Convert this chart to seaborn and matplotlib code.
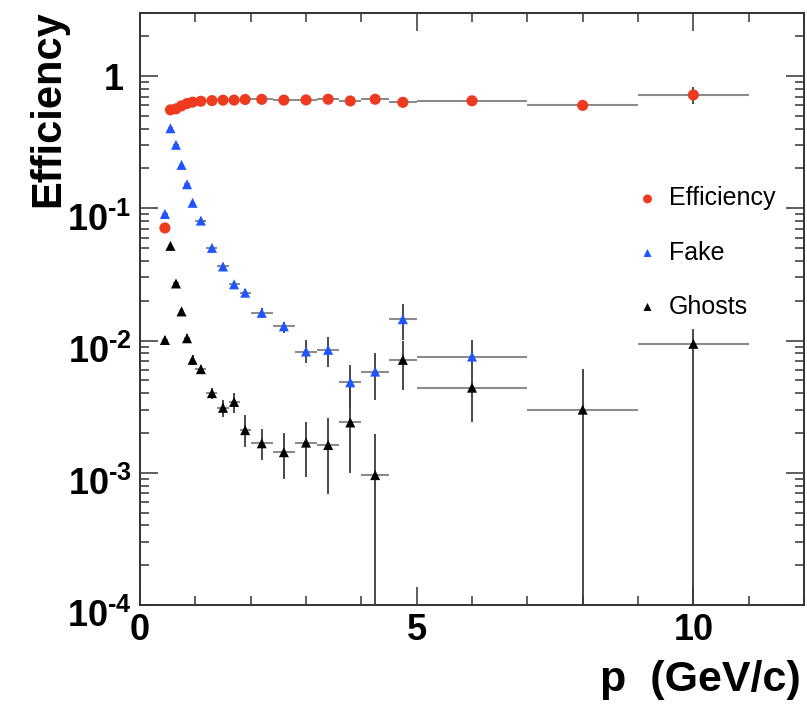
import numpy as np
import pandas as pd
import matplotlib
matplotlib.use("Agg")
import matplotlib.pyplot as plt
import matplotlib.transforms as mtransforms
import seaborn as sns
from matplotlib.ticker import MultipleLocator, LogLocator, NullFormatter

# ---------------- data ----------------
p_centers = [0.45, 0.55, 0.65, 0.75, 0.85, 0.95, 1.1, 1.3, 1.5, 1.7, 1.9,
             2.2, 2.6, 3.0, 3.4, 3.8, 4.25, 4.75, 6.0, 8.0, 10.0]
p_halfwidth = [0.05, 0.05, 0.05, 0.05, 0.05, 0.05, 0.1, 0.1, 0.1, 0.1, 0.1,
               0.2, 0.2, 0.2, 0.2, 0.2, 0.25, 0.25, 1.0, 1.0, 1.0]

efficiency = [0.071, 0.555, 0.565, 0.595, 0.62, 0.635, 0.645, 0.652, 0.657, 0.658, 0.665,
              0.667, 0.658, 0.66, 0.668, 0.648, 0.668, 0.633, 0.65, 0.60, 0.72]
eff_err = [0.004, 0.01, 0.01, 0.01, 0.01, 0.01, 0.01, 0.01, 0.01, 0.01, 0.01,
           0.01, 0.01, 0.012, 0.012, 0.012, 0.014, 0.016, 0.015, 0.03, 0.10]

fake = [0.0906, 0.403, 0.302, 0.213, 0.152, 0.11, 0.0807, 0.0502, 0.0363, 0.0266, 0.023,
        0.0162, 0.0128, 0.00826, 0.0085, 0.00483, 0.00582, 0.0145, 0.00756, np.nan, np.nan]
fake_err_lo = [0.003, 0.01, 0.008, 0.006, 0.005, 0.004, 0.003, 0.0025, 0.002, 0.0017, 0.0016,
               0.0013, 0.0014, 0.0015, 0.0022, 0.0017, 0.0023, 0.0044, 0.0016, np.nan, np.nan]
fake_err_hi = [0.003, 0.01, 0.008, 0.006, 0.005, 0.004, 0.003, 0.0025, 0.002, 0.0017, 0.0016,
               0.0013, 0.0011, 0.0019, 0.0021, 0.0017, 0.0022, 0.0045, 0.0025, np.nan, np.nan]

ghosts = [0.0101, 0.052, 0.027, 0.0166, 0.0104, 0.00714, 0.00607, 0.0040, 0.0031, 0.00343, 0.0021,
          0.00167, 0.00143, 0.00169, 0.00162, 0.0024, 0.00096, 0.00714, 0.0044, 0.0030, 0.00944]
ghosts_err_lo = [0.0008, 0.002, 0.0015, 0.001, 0.0008, 0.0006, 0.0005, 0.0004, 0.00045, 0.00058, 0.00053,
                 0.00042, 0.00054, 0.00076, 0.00093, 0.0014, 0.00096, 0.0029, 0.002, 0.0030, 0.00944]
ghosts_err_hi = [0.0008, 0.002, 0.0015, 0.001, 0.0008, 0.0006, 0.0005, 0.0004, 0.00045, 0.00057, 0.00064,
                 0.00046, 0.00058, 0.00074, 0.00096, 0.0021, 0.0010, 0.0027, 0.0016, 0.0031, 0.0028]

series_names = ["Efficiency", "Fake", "Ghosts"]
series_colors = ["#EE3A1E", "#1F55FF", "#000000"]

xtick_vals = [0, 5, 10]
xtick_labels = ["0", "5", "10"]
ytick_vals = [1e-4, 1e-3, 1e-2, 1e-1, 1]
ytick_labels = ["10$^{\\text{-}4}$", "10$^{\\text{-}3}$", "10$^{\\text{-}2}$",
                "10$^{\\text{-}1}$", "1"]

# ---------------- style ----------------
sns.set_style("ticks")
plt.rcParams["font.family"] = ["Liberation Sans", "DejaVu Sans"]
plt.rcParams["mathtext.fontset"] = "custom"
plt.rcParams["mathtext.rm"] = "Liberation Sans:bold"
plt.rcParams["mathtext.bf"] = "Liberation Sans:bold"
plt.rcParams["mathtext.it"] = "Liberation Sans:bold:italic"
plt.rcParams["mathtext.sf"] = "Liberation Sans:bold"
plt.rcParams["text.color"] = "black"
plt.rcParams["axes.labelcolor"] = "black"
plt.rcParams["xtick.labelcolor"] = "black"
plt.rcParams["ytick.labelcolor"] = "black"

fig = plt.figure(figsize=(8.07, 7.13), dpi=100)
ax = fig.add_axes([0.1735, 0.1515, 0.8228, 0.8303])
ax.set_yscale("log", nonpositive="clip")

def clip_lo(val, lo):
    v = np.asarray(val, float)
    l = np.asarray(lo, float)
    return np.where(l >= v, v * 0.999, l)

hcol = "#8c8c8c"
vcol = "#3a3a3a"
data_sets = [
    (efficiency, eff_err, eff_err),
    (fake, fake_err_lo, fake_err_hi),
    (ghosts, ghosts_err_lo, ghosts_err_hi),
]
for vals, lo, hi in data_sets:
    ax.errorbar(p_centers, vals, xerr=p_halfwidth, fmt="none", ecolor=hcol,
                elinewidth=1.5, capsize=0, zorder=2)
    ax.errorbar(p_centers, vals, yerr=[clip_lo(vals, lo), hi], fmt="none",
                ecolor=vcol, elinewidth=1.3, capsize=0, zorder=2)

df = pd.DataFrame({"p": p_centers, "Efficiency": efficiency, "Fake": fake, "Ghosts": ghosts})
markers = ["o", "^", "^"]
sizes = [64, 52, 52]
for name, col, mk, sz in zip(series_names, series_colors, markers, sizes):
    sns.scatterplot(data=df, x="p", y=name, ax=ax, color=col, marker=mk, s=sz,
                    edgecolor="none", linewidth=0, label=name, zorder=3)

ax.set_xlim(0, 12)
ax.set_ylim(1e-4, 3.0)

ax.set_xticks(xtick_vals, xtick_labels, fontsize=26, fontweight="bold")
ax.set_yticks(ytick_vals, ytick_labels, fontsize=26, fontweight="bold")
ax.xaxis.set_minor_locator(MultipleLocator(1))
ax.yaxis.set_minor_locator(LogLocator(base=10, subs=np.arange(2, 10)))
ax.yaxis.set_minor_formatter(NullFormatter())

ax.tick_params(which="both", direction="in", top=True, right=True, color="#444444")
ax.tick_params(which="major", length=13, width=1.2)
ax.tick_params(which="minor", length=6.5, width=1.2)
ax.tick_params(axis="x", which="major", pad=6)
ax.tick_params(axis="y", which="major", pad=6)

# exponent labels sit a little lower, as in the reference
shift = mtransforms.ScaledTranslation(0, -6 / 72, fig.dpi_scale_trans)
shift_one = mtransforms.ScaledTranslation(-6 / 72, 0, fig.dpi_scale_trans)
for lbl in ax.get_yticklabels():
    if "$" in lbl.get_text():
        lbl.set_transform(lbl.get_transform() + shift)
    else:
        lbl.set_transform(lbl.get_transform() + shift_one)

for s in ax.spines.values():
    s.set_color("#333333")
    s.set_linewidth(1.4)

ax.set_xlabel("p  (GeV/c)", fontsize=31, fontweight="bold", ha="right", va="top")
ax.xaxis.set_label_coords(0.995, -0.093)
ax.set_ylabel("Efficiency", fontsize=30, fontweight="bold", ha="right", va="bottom")
ax.yaxis.set_label_coords(-0.108, 1.005)

leg = ax.legend(loc="upper left", bbox_to_anchor=(620 / 807, 1 - 174 / 713),
                bbox_transform=fig.transFigure, frameon=False, fontsize=18,
                labelspacing=1.2, handletextpad=0.25, handlelength=1.2,
                borderpad=0, markerscale=0.8)

fig.savefig("out.png", dpi=100)
